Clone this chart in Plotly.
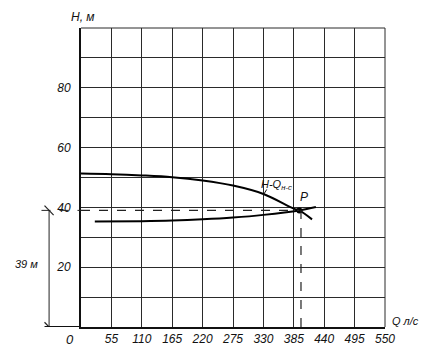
import plotly.graph_objects as go

# Data
pump_q = [0, 55, 110, 165, 220, 275, 330, 385, 395, 418]
pump_h = [51.3, 51.1, 50.7, 50.1, 49.0, 47.3, 44.5, 39.6, 39.0, 36.0]

sys_q = [25, 110, 165, 220, 275, 330, 395, 425]
sys_h = [35.3, 35.4, 35.6, 36.0, 36.6, 37.5, 39.0, 40.1]

work_q = 395
work_h = 39

x_ticks = [55, 110, 165, 220, 275, 330, 385, 440, 495, 550]
x_tick_text = ["55", "110", "165", "220", "275", "330", "385", "440", "495", "550"]
y_ticks = [20, 40, 60, 80]
y_tick_text = ["20", "40", "60", "80"]

FONT = "Liberation Sans"
tf = dict(family=FONT, size=12, color="#111", style="italic")
GRID = "#2a2a2a"

fig = go.Figure()

fig.add_trace(go.Scatter(x=pump_q, y=pump_h, mode="lines",
                         line=dict(color="#000", width=2, shape="spline"),
                         showlegend=False, hoverinfo="skip"))
fig.add_trace(go.Scatter(x=sys_q, y=sys_h, mode="lines",
                         line=dict(color="#000", width=2, shape="spline"),
                         showlegend=False, hoverinfo="skip"))
fig.add_trace(go.Scatter(x=[work_q], y=[work_h], mode="markers",
                         marker=dict(color="#000", size=6),
                         showlegend=False, hoverinfo="skip"))

shapes = []
shapes.append(dict(type="line", xref="paper", yref="y", x0=-0.13, x1=0, y0=work_h, y1=work_h,
                   line=dict(color="#222", width=1, dash="dash")))
shapes.append(dict(type="line", xref="x", yref="y", x0=0, x1=work_q, y0=work_h, y1=work_h,
                   line=dict(color="#222", width=1.2, dash="dash")))
shapes.append(dict(type="line", xref="x", yref="y", x0=work_q + 3, x1=work_q + 3, y0=0, y1=work_h + 2,
                   line=dict(color="#222", width=1.2, dash="dash")))
shapes.append(dict(type="line", xref="paper", yref="y", x0=-0.105, x1=-0.105, y0=0, y1=work_h,
                   line=dict(color="#222", width=1)))
shapes.append(dict(type="line", xref="paper", yref="y", x0=-0.12, x1=-0.09, y0=work_h + 1.6, y1=work_h - 1.6,
                   line=dict(color="#222", width=1.2)))
shapes.append(dict(type="line", xref="paper", yref="y", x0=-0.12, x1=-0.09, y0=1.6, y1=-1.6,
                   line=dict(color="#222", width=1.2)))
shapes.append(dict(type="line", xref="paper", yref="y", x0=-0.12, x1=0, y0=0, y1=0,
                   line=dict(color="#111", width=2)))
shapes.append(dict(type="line", xref="x", yref="y", x0=336, x1=330, y0=46.0, y1=44.2,
                   line=dict(color="#111", width=1)))
shapes.append(dict(type="line", xref="paper", yref="paper", x0=0, x1=1, y0=1, y1=1,
                   line=dict(color=GRID, width=1)))
shapes.append(dict(type="line", xref="paper", yref="paper", x0=1, x1=1, y0=0, y1=1,
                   line=dict(color=GRID, width=1)))

fig.update_layout(
    width=425, height=350,
    margin=dict(l=73, r=48, t=20, b=22),
    paper_bgcolor="white", plot_bgcolor="white",
    shapes=shapes,
    xaxis=dict(range=[0, 550], tickmode="array", tickvals=x_ticks, ticktext=x_tick_text,
               showgrid=True, gridcolor=GRID, gridwidth=1,
               showline=True, linecolor="#111", linewidth=2,
               ticks="", tickfont=tf, zeroline=False, fixedrange=True),
    yaxis=dict(range=[0, 100], tickmode="array", tickvals=y_ticks, ticktext=y_tick_text,
               showgrid=True, gridcolor=GRID, gridwidth=1,
               minor=dict(tick0=0, dtick=10, showgrid=True, gridcolor=GRID, gridwidth=1, ticks=""),
               showline=True, linecolor="#111", linewidth=2,
               ticks="outside", ticklen=6, tickcolor="rgba(0,0,0,0)",
               tickfont=tf, zeroline=False, fixedrange=True),
)

ann = []
ann.append(dict(text="H, м", xref="paper", yref="paper", x=0.007, y=1.0, yshift=11,
                xanchor="center", yanchor="middle", showarrow=False,
                font=dict(family=FONT, size=12, color="#111", style="italic")))
ann.append(dict(text="Q л/с", xref="paper", yref="paper", x=1.0, y=0, xshift=20, yshift=6,
                xanchor="center", yanchor="middle", showarrow=False,
                font=dict(family=FONT, size=11, color="#111", style="italic")))
ann.append(dict(text="0", xref="paper", yref="paper", x=0, y=0, xshift=-11, yshift=-12,
                xanchor="center", yanchor="middle", showarrow=False,
                font=dict(family=FONT, size=13, color="#111", style="italic")))
ann.append(dict(text="39 м", xref="paper", yref="y", x=-0.18, y=21, xanchor="center",
                yanchor="middle", showarrow=False,
                font=dict(family=FONT, size=11, color="#111", style="italic")))
ann.append(dict(text="H-Q<sub>н-с</sub>", xref="x", yref="y", x=354, y=47.5, xanchor="center",
                yanchor="middle", showarrow=False,
                font=dict(family=FONT, size=11, color="#111", style="italic")))
ann.append(dict(text="P", xref="x", yref="y", x=work_q + 9, y=work_h + 4.5, xanchor="center",
                yanchor="middle", showarrow=False,
                font=dict(family=FONT, size=12, color="#111", style="italic")))
fig.update_layout(annotations=ann)

fig.write_html("out.html")
